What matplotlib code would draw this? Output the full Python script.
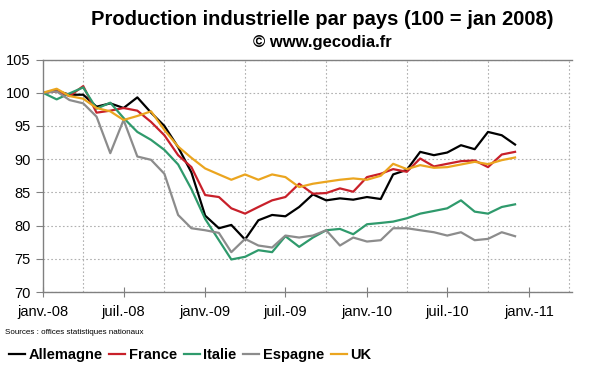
import pandas as pd
import matplotlib
matplotlib.use("Agg")
import matplotlib.pyplot as plt
import matplotlib.dates as mdates

# Données (indice 100 = janvier 2008), mensuel jan 2008 -> déc 2010
mois = pd.date_range("2008-01-01", "2010-12-01", freq="MS")

allemagne = [100, 100.3, 99.7, 99.7, 97.9, 98.4, 97.7, 99.3, 97.0, 95.0, 91.8, 88.0,
             81.5, 79.6, 80.1, 77.9, 80.8, 81.6, 81.4, 82.8, 84.7, 83.8, 84.1, 83.9,
             84.3, 84.0, 87.7, 88.4, 91.1, 90.6, 91.0, 92.1, 91.5, 94.1, 93.6, 92.2]
france = [100, 100.2, 99.5, 101.0, 97.0, 97.3, 97.7, 97.3, 95.6, 93.6, 90.6, 88.8,
          84.6, 84.3, 82.6, 81.8, 82.8, 83.8, 84.3, 86.3, 84.8, 84.9, 85.6, 85.1,
          87.3, 87.8, 88.5, 88.1, 90.1, 88.9, 89.3, 89.7, 89.8, 88.8, 90.7, 91.1]
italie = [100, 99.0, 99.9, 100.8, 97.6, 98.5, 96.2, 94.1, 92.9, 91.4, 89.2, 85.5,
          81.0, 77.8, 74.9, 75.3, 76.3, 76.0, 78.4, 76.8, 78.2, 79.3, 79.5, 78.7,
          80.2, 80.4, 80.6, 81.1, 81.8, 82.2, 82.6, 83.8, 82.1, 81.8, 82.8, 83.2]
espagne = [100, 100.2, 98.9, 98.4, 96.4, 90.9, 95.9, 90.4, 89.9, 87.8, 81.6, 79.6,
           79.3, 78.9, 76.0, 78.0, 77.0, 76.7, 78.5, 78.2, 78.5, 79.3, 77.0, 78.2,
           77.6, 77.8, 79.6, 79.6, 79.3, 79.0, 78.5, 79.0, 77.8, 78.0, 79.0, 78.4]
uk = [100, 100.6, 99.5, 99.1, 97.7, 97.2, 95.9, 96.5, 97.2, 94.4, 91.9, 90.2,
      88.6, 87.7, 86.9, 87.7, 86.9, 87.7, 87.3, 85.8, 86.3, 86.6, 86.9, 87.1,
      86.9, 87.5, 89.3, 88.5, 89.1, 88.7, 88.8, 89.2, 89.6, 89.25, 89.85, 90.25]

pays = ["Allemagne", "France", "Italie", "Espagne", "UK"]
couleurs = ["#000000", "#c8202a", "#2f9a6c", "#8c8c8c", "#eba51f"]

tick_dates = pd.to_datetime(["2008-01-01", "2008-07-01", "2009-01-01", "2009-07-01",
                             "2010-01-01", "2010-07-01", "2011-01-01"])
tick_labels = ["janv.-08", "juil.-08", "janv.-09", "juil.-09", "janv.-10", "juil.-10", "janv.-11"]

plt.rcParams['font.family'] = ['Liberation Sans', 'DejaVu Sans']

fig = plt.figure(figsize=(6, 3.72), dpi=100)
ax = fig.add_axes([0.0715, 0.215, 0.8815, 0.625])

for nom, serie, c in zip(pays, [allemagne, france, italie, espagne, uk], couleurs):
    ax.plot(mois, serie, color=c, lw=1.6, label=nom)

ax.set_ylim(70, 105)
ax.set_yticks(range(70, 106, 5))
ax.set_xlim(pd.Timestamp("2008-01-01"), pd.Timestamp("2011-04-08"))
ax.set_xticks(tick_dates)
ax.set_xticklabels(tick_labels)
ax.xaxis.set_minor_locator(mdates.MonthLocator(bymonth=[1, 4, 7, 10]))

ax.grid(True, which="minor", axis="x", ls=(0, (1.5, 2)), color="#b0b0b0", lw=0.8)
ax.grid(True, which="major", axis="y", ls=(0, (1.5, 2)), color="#b0b0b0", lw=0.8)
ax.tick_params(axis="x", which="minor", length=0)
ax.tick_params(axis="x", which="major", direction="inout", length=7, color="#808080",
               labelsize=10.5, pad=6)
ax.tick_params(axis="y", direction="out", length=5, color="#808080", labelsize=10.5, pad=4)

for s in ["left", "bottom", "top"]:
    ax.spines[s].set_color("#808080")
    ax.spines[s].set_linewidth(1.0)
ax.spines["right"].set_visible(False)

fig.text(0.537, 0.948, "Production industrielle par pays (100 = jan 2008)",
         ha="center", va="center", fontsize=14.5, fontweight="bold")
fig.text(0.537, 0.887, "© www.gecodia.fr", ha="center", va="center",
         fontsize=12, fontweight="bold")
fig.text(0.008, 0.105, "Sources : offices statistiques nationaux", fontsize=5.8,
         ha="left", va="center")

fig.legend(loc="center left", bbox_to_anchor=(0.005, 0.045), ncol=5, frameon=False,
           prop={"weight": "bold", "size": 10.5}, handlelength=1.1, handletextpad=0.25,
           columnspacing=0.45, borderaxespad=0)

fig.savefig("out.png", dpi=100)
